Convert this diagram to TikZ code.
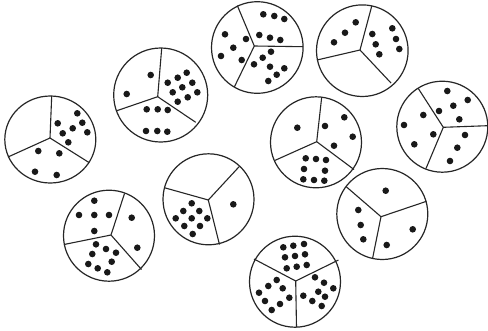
\documentclass[tikz,border=0pt]{standalone}
\begin{document}
\begin{tikzpicture}[x=1pt,y=-1pt,
  plate/.style={draw=black!85,line width=1.2pt},
  spoke/.style={draw=black!85,line width=1.1pt},
  dot/.style={fill=black!90}]
\useasboundingbox[fill=white] (0,0) rectangle (488,330);
% circle 1
\draw[plate] (50.3,139.5) ellipse [x radius=45.5pt, y radius=43.5pt];
\coordinate (c1) at (50,138);
\draw[spoke] (c1) -- (51.7,96) (c1) -- (8,157) (c1) -- (89.3,162.7);
\foreach \p in {(77.3,113.3),(57.7,123.3),(82.3,122.7),(72.7,128.3),(62.7,133.3),(87.3,132.3),(68.3,142.3),(38.3,151),(59.3,153.3),(35,171.7),(56.7,175)}
  \fill[dot] \p circle[radius=3.3pt];
% circle 2
\draw[plate] (160.7,95) circle[radius=47pt];
\coordinate (c2) at (157.7,96.7);
\draw[spoke] (c2) -- (161.7,48.2) (c2) -- (116,111) (c2) -- (195.7,122.3);
\foreach \p in {(150.7,75),(126.7,94),(186.7,72.7),(177.7,77.7),(167.7,82.7),(192.3,82.7),(182.3,87.3),(172.7,92.3),(197.3,92.3),(187.7,97.3),(177.7,101.7),(146.7,109.3),(157.7,109.3),(167.7,110),(146,131),(157.3,131),(167.3,131.7)}
  \fill[dot] \p circle[radius=3.3pt];
% circle 3
\draw[plate] (257.3,47.5) circle[radius=45.8pt];
\coordinate (c3) at (254.3,46);
\draw[spoke] (c3) -- (237.3,5.5) (c3) -- (303,46.7) (c3) -- (234.3,87);
\foreach \p in {(263.3,14.3),(274.3,16),(284.3,19),(225,34.3),(246,39),(259.3,35),(270,37.7),(280.3,40),(233.3,47.7),(221,56),(271,51.7),(241.7,60),(262.7,57.7),(254,64.3),(270,66.7),(284.3,68.3),(276.7,74.7),(268.3,81)}
  \fill[dot] \p circle[radius=3.3pt];
% circle 4
\draw[plate] (362.3,50.7) circle[radius=45.8pt];
\coordinate (c4) at (360,50);
\draw[spoke] (c4) -- (371.7,6.2) (c4) -- (317,60) (c4) -- (391,83);
\foreach \p in {(355.7,22.3),(345,32.7),(334,42.3),(372.3,34),(375.7,44.3),(379.3,54.3),(392.3,28.3),(396,39),(399.3,49)}
  \fill[dot] \p circle[radius=3.3pt];
% circle 5
\draw[plate] (442.3,126.7) circle[radius=45.5pt];
\coordinate (c5) at (443.3,127.3);
\draw[spoke] (c5) -- (418.3,88.5) (c5) -- (487.5,125.7) (c5) -- (426,168.5);
\foreach \p in {(447.3,91),(467.7,100),(453.3,105.7),(439,111),(423.3,115),(459.3,119.3),(404,125),(433.3,134.3),(465,135),(414.3,144.3),(457.3,147.7),(450,161)}
  \fill[dot] \p circle[radius=3.3pt];
% circle 6
\draw[plate] (316,142.3) circle[radius=45.5pt];
\coordinate (c6) at (316.7,141.7);
\draw[spoke] (c6) -- (321.7,97.2) (c6) -- (274.7,160.5) (c6) -- (354,169.5);
\foreach \p in {(297.3,127.7),(325,126),(344.3,117.3),(352.7,136.7),(334,145.7),(305.7,158.3),(316,159),(326,160),(304,169),(325,170.7),(303.3,179.3),(314,180),(324.3,180.7)}
  \fill[dot] \p circle[radius=3.3pt];
% circle 7
\draw[plate] (208.5,199.3) circle[radius=45.5pt];
\coordinate (c7) at (208.3,200);
\draw[spoke] (c7) -- (239.3,166.5) (c7) -- (164.7,187.8) (c7) -- (219.5,244.5);
\foreach \p in {(233.3,204.3),(191.7,203.3),(183.3,211),(199.3,211),(175.7,218.3),(191.7,218.3),(207.3,218.3),(184.3,226),(200,226),(192.7,234)}
  \fill[dot] \p circle[radius=3.3pt];
% circle 8
\draw[plate] (109,235.7) circle[radius=45.5pt];
\coordinate (c8) at (111,235);
\draw[spoke] (c8) -- (124.5,193.5) (c8) -- (64,244.5) (c8) -- (141.5,269.5);
\foreach \p in {(94.3,200.7),(79,215),(94.3,215),(109,215),(94.3,231),(131.7,217.7),(137.3,247.7),(96,244.3),(106,249),(92.3,254),(116,252.7),(88.3,264),(111.7,261.7),(97.7,268.3),(107.3,272.3)}
  \fill[dot] \p circle[radius=3.3pt];
% circle 9
\draw[plate] (382.3,214) circle[radius=45.5pt];
\coordinate (c9) at (381,216.7);
\draw[spoke] (c9) -- (346,186.5) (c9) -- (426.5,201.3) (c9) -- (372.5,258.8);
\foreach \p in {(385.7,190.7),(358.3,210),(360.7,225),(363.3,239.3),(412.7,229.3),(386.7,245)}
  \fill[dot] \p circle[radius=3.3pt];
% circle 10
\draw[plate] (295,281.7) circle[radius=45.5pt];
\coordinate (c10) at (295.7,281);
\draw[spoke] (c10) -- (254,259) (c10) -- (338.5,260) (c10) -- (296.5,327.2);
\foreach \p in {(283.3,247.3),(293.3,245.7),(304,244),(285,257.3),(295,256),(305,254.3),(286.7,268.3),(296.7,266.7),(306.7,265),(276.7,280),(268.3,286),(282.7,288.3),(259,292.7),(289.3,297.7),(265,301),(280,304),(271.7,310),(315,277.3),(324,282.7),(333.3,288.3),(318.3,291.7),(303.3,295.7),(325,296.7),(312.3,301),(321.7,306)}
  \fill[dot] \p circle[radius=3.3pt];
\end{tikzpicture}
\end{document}
